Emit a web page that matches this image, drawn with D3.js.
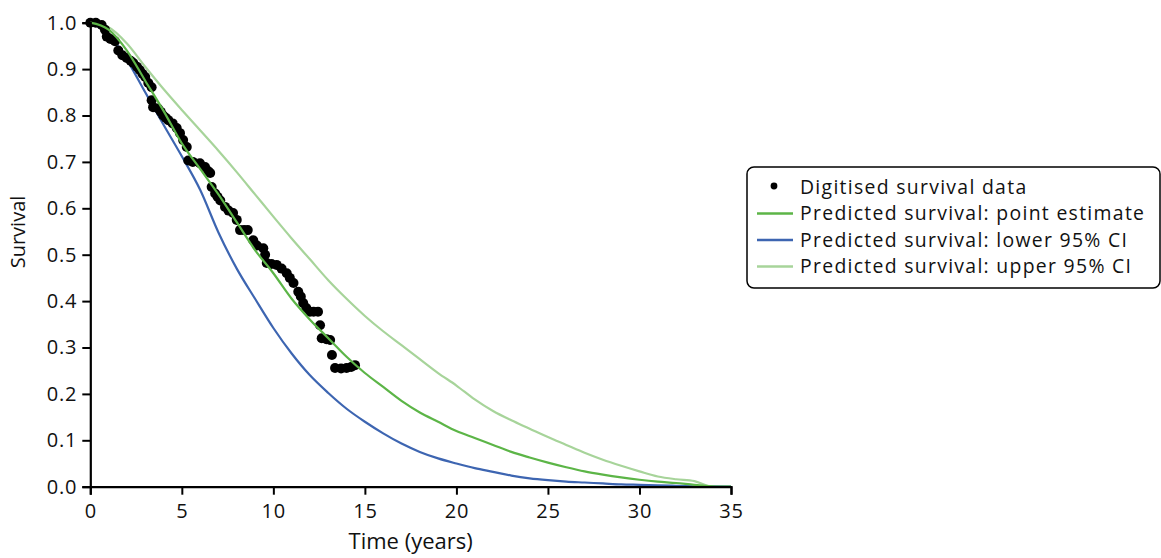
<!DOCTYPE html>
<html>
<head>
<meta charset="utf-8">
<script src="https://cdn.jsdelivr.net/npm/d3@7"></script>
<style>
  body { margin: 0; background: #fff; }
  text { font-family: "Open Sans", "Noto Sans", sans-serif; fill: #111; }
</style>
</head>
<body>
<svg id="chart" width="1161" height="558"></svg>
<script>
var digitised = [
  [0,1.0],[0.3,1.0],[0.62,0.995],[0.8,0.985],[0.9,0.97],[1.1,0.965],[1.35,0.96],[1.53,0.94],
  [1.75,0.93],[1.99,0.924],[2.2,0.918],[2.35,0.913],[2.55,0.905],[2.7,0.898],[2.85,0.89],
  [3.0,0.883],[3.17,0.87],[3.35,0.861],[3.35,0.833],[3.43,0.818],[3.7,0.815],[3.85,0.808],
  [3.98,0.80],[4.12,0.795],[4.26,0.79],[4.5,0.783],[4.72,0.773],[4.9,0.762],[5.07,0.747],
  [5.27,0.732],[5.35,0.703],[5.6,0.70],[5.99,0.697],[6.27,0.689],[6.45,0.68],[6.55,0.676],
  [6.63,0.646],[6.82,0.632],[6.95,0.625],[7.1,0.617],[7.36,0.603],[7.55,0.595],[7.8,0.59],
  [8.0,0.575],[8.18,0.553],[8.4,0.553],[8.6,0.553],[8.9,0.531],[9.1,0.52],[9.45,0.514],
  [9.55,0.5],[9.64,0.482],[9.9,0.48],[10.18,0.478],[10.45,0.47],[10.73,0.46],[10.9,0.45],
  [11.1,0.439],[11.36,0.42],[11.5,0.41],[11.63,0.396],[11.8,0.385],[12.0,0.377],[12.2,0.377],
  [12.44,0.377],[12.55,0.348],[12.64,0.32],[12.9,0.318],[13.1,0.316],[13.2,0.284],
  [13.37,0.256],[13.7,0.255],[14.0,0.256],[14.25,0.258],[14.46,0.262]
]

// predicted survival curves, read at yearly steps
var years = [0,1,2,3,4,5,6,7,8,9,10,11,12,13,14,15,16,17,18,19,20,21,22,23,24,25,26,27,28,29,30,31,32,33,34,35]
var pointEst = [1.0,0.985,0.94,0.875,0.81,0.74,0.685,0.63,0.57,0.51,0.46,0.405,0.36,0.32,0.28,0.245,0.215,0.185,0.16,0.14,0.12,0.105,0.09,0.075,0.063,0.052,0.042,0.033,0.026,0.02,0.015,0.011,0.008,0.004,0.001,0]
var lowerCI = [1.0,0.975,0.92,0.85,0.78,0.712,0.64,0.548,0.47,0.405,0.342,0.287,0.24,0.202,0.168,0.14,0.115,0.093,0.075,0.061,0.05,0.04,0.032,0.024,0.018,0.014,0.011,0.009,0.007,0.005,0.004,0.003,0.002,0.001,0.0005,0]
var upperCI = [1.0,0.99,0.955,0.905,0.857,0.812,0.768,0.724,0.678,0.63,0.582,0.535,0.49,0.445,0.405,0.368,0.335,0.305,0.275,0.245,0.218,0.188,0.163,0.143,0.125,0.107,0.09,0.073,0.058,0.045,0.033,0.022,0.016,0.012,0.0,0]

var xTicks = [0,5,10,15,20,25,30,35]
var yTicks = [0,0.1,0.2,0.3,0.4,0.5,0.6,0.7,0.8,0.9,1.0]

var series = [
  {label: "Predicted survival: point estimate", values: pointEst, colour: "#5cb547"},
  {label: "Predicted survival: lower 95% CI", values: lowerCI, colour: "#3d65b1"},
  {label: "Predicted survival: upper 95% CI", values: upperCI, colour: "#a7d49a"}
]

var svg = d3.select("#chart")

var x = d3.scaleLinear().domain([0, 35]).range([90.3, 731])
var y = d3.scaleLinear().domain([0, 1]).range([486.7, 22.7])

// curves
var line = d3.line()
  .x(function(d) { return x(d[0]) })
  .y(function(d) { return y(d[1]) })
  .curve(d3.curveMonotoneX)

function pairs(vals) {
  return years.map(function(t, i) { return [t, vals[i]] })
}

// upper + lower first, dots, then the point estimate on top
;[series[2], series[1]].forEach(function(s) {
  svg.append("path")
    .datum(pairs(s.values))
    .attr("d", line)
    .attr("fill", "none")
    .attr("stroke", s.colour)
    .attr("stroke-width", 2.2)
})

svg.append("g").selectAll("circle")
  .data(digitised)
  .enter().append("circle")
  .attr("cx", function(d) { return x(d[0]) })
  .attr("cy", function(d) { return y(d[1]) })
  .attr("r", 5)
  .attr("fill", "#000")

svg.append("path")
  .datum(pairs(pointEst))
  .attr("d", line)
  .attr("fill", "none")
  .attr("stroke", series[0].colour)
  .attr("stroke-width", 2.2)

// axes
var xAxis = svg.append("g")
  .attr("transform", "translate(0," + y(0) + ")")
  .call(d3.axisBottom(x).tickValues(xTicks).tickSize(8).tickPadding(9).tickFormat(d3.format("d")))
var yAxis = svg.append("g")
  .attr("transform", "translate(" + x(0) + ",0)")
  .call(d3.axisLeft(y).tickValues(yTicks).tickSize(8).tickPadding(5).tickFormat(d3.format(".1f")))

;[xAxis, yAxis].forEach(function(a) {
  a.select(".domain").attr("stroke", "#000").attr("stroke-width", 2.2)
  a.selectAll(".tick line").attr("stroke", "#000").attr("stroke-width", 2)
  a.selectAll(".tick text")
    .style("font-size", "20px")
    .style("letter-spacing", "0.8px")
    .attr("fill", "#111")
})

svg.append("text")
  .attr("x", (x(0) + x(35)) / 2)
  .attr("y", 549)
  .attr("text-anchor", "middle")
  .style("font-size", "22px")
  .text("Time (years)")

svg.append("text")
  .attr("transform", "translate(25,232) rotate(-90)")
  .attr("text-anchor", "middle")
  .style("font-size", "20px")
  .text("Survival")

// legend
var lg = svg.append("g")
lg.append("rect")
  .attr("x", 747).attr("y", 167)
  .attr("width", 413).attr("height", 121)
  .attr("rx", 7)
  .attr("fill", "#fff").attr("stroke", "#000").attr("stroke-width", 1.5)

// rows are tight, so a slightly smaller font with a little tracking keeps the width
var rowY = [187, 213.5, 240, 266.5]
var legendFont = "19.4px", legendTrack = "1.3px"
lg.append("circle").attr("cx", 774).attr("cy", rowY[0] - 1).attr("r", 3.4).attr("fill", "#000")
lg.append("text").attr("x", 800).attr("y", rowY[0]).attr("dy", "0.35em")
  .style("font-size", legendFont).style("letter-spacing", legendTrack)
  .text("Digitised survival data")

series.forEach(function(s, i) {
  lg.append("line")
    .attr("x1", 757).attr("x2", 793)
    .attr("y1", rowY[i + 1]).attr("y2", rowY[i + 1])
    .attr("stroke", s.colour).attr("stroke-width", 2.4)
  lg.append("text").attr("x", 800).attr("y", rowY[i + 1]).attr("dy", "0.35em")
    .style("font-size", legendFont).style("letter-spacing", legendTrack)
    .text(s.label)
})
</script>
</body>
</html>
